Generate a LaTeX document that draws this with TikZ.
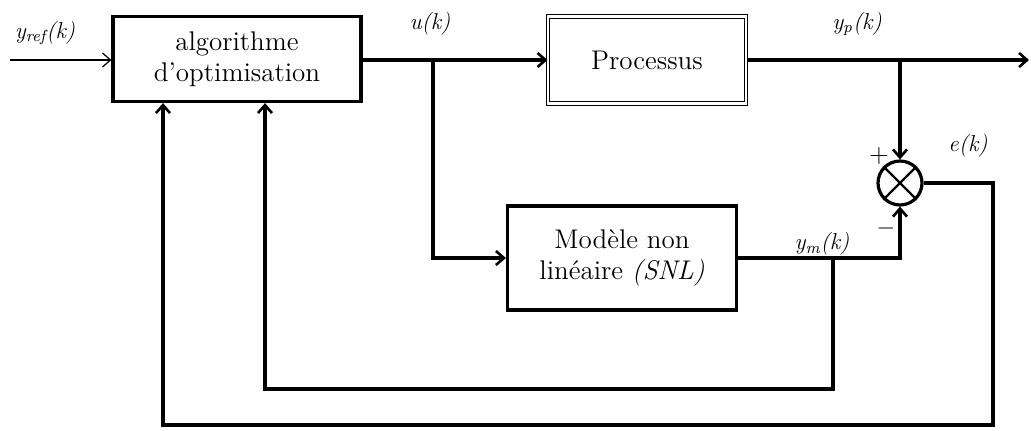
\documentclass[tikz,border=0pt]{standalone}
\usetikzlibrary{arrows.meta}
\begin{document}
\begin{tikzpicture}[x=0.5pt,y=-0.5pt,
  bloc/.style={draw, line width=1.6pt, align=center, font=\fontsize{13.5}{15.5}\selectfont},
  lbl/.style={font=\fontsize{11.5}{13}\selectfont\itshape},
  fl/.style={line width=1.6pt, -{Straight Barb[length=4pt,width=7pt,line width=1.3pt]}}]
% \draw[help lines, gray] (0,0) grid[step=50] (1031,430);
\useasboundingbox (0,0) rectangle (1031,430);
\node (algo) at (237,59) [bloc, minimum width=124pt, minimum height=42.5pt] {algorithme\\d'optimisation} ;
\node (proc) at (647,60) [bloc, line width=0.5pt, double, double distance=1.2pt, minimum width=99pt, minimum height=43.5pt] {Processus} ;
\node (snl) at (622,258) [bloc, minimum width=114.5pt, minimum height=52pt] {Modèle non\\linéaire \textit{(SNL)}} ;
\node (sum) at (900,183) [draw, circle, line width=1.6pt, minimum size=22pt, inner sep=0pt] {} ;
\draw [line width=1.2pt] (sum.north west) -- (sum.south east) (sum.north east) -- (sum.south west) ;
\coordinate (yin) at (10,60) ;
\coordinate (u) at (433,60) ;
\coordinate (yp) at (900,60) ;
\coordinate (yout) at (1029,60) ;
\coordinate (ym) at (833,258) ;
\coordinate (bas1) at (265,389) ;
\coordinate (bas2) at (163,425) ;
\coordinate (ek) at (993,183) ;
\draw [line width=0.6pt, -{Straight Barb[length=4pt,width=7pt]}] (yin) -- (yin -| algo.west) ;
\draw [fl] (algo.east |- u) -- (u -| proc.west) ;
\draw [fl] (u) |- (snl.west) ;
\draw [fl] (proc.east |- yp) -- (yout) ;
\draw [fl] (yp) -- (sum.north) ;
\draw [fl] (snl.east) -| (sum.south) ;
\draw [fl] (ym) |- (bas1) -- (bas1 |- algo.south) ;
\draw [fl] (sum.east) -| (ek |- bas2) -- (bas2) -- (bas2 |- algo.south) ;
\node (lyref) at (45,33) [lbl] {y\textsubscript{ref}(k)} ;
\node (lu) at (430,24) [lbl] {u(k)} ;
\node (lyp) at (857,24) [lbl] {y\textsubscript{p}(k)} ;
\node (le) at (968,146) [lbl] {e(k)} ;
\node (lym) at (822,244) [lbl] {y\textsubscript{m}(k)} ;
\node (plus) at (879,156) [font=\fontsize{13}{15}\selectfont] {+} ;
\node (moins) at (886,228) [font=\fontsize{13}{15}\selectfont] {$-$} ;
\end{tikzpicture}
\end{document}
